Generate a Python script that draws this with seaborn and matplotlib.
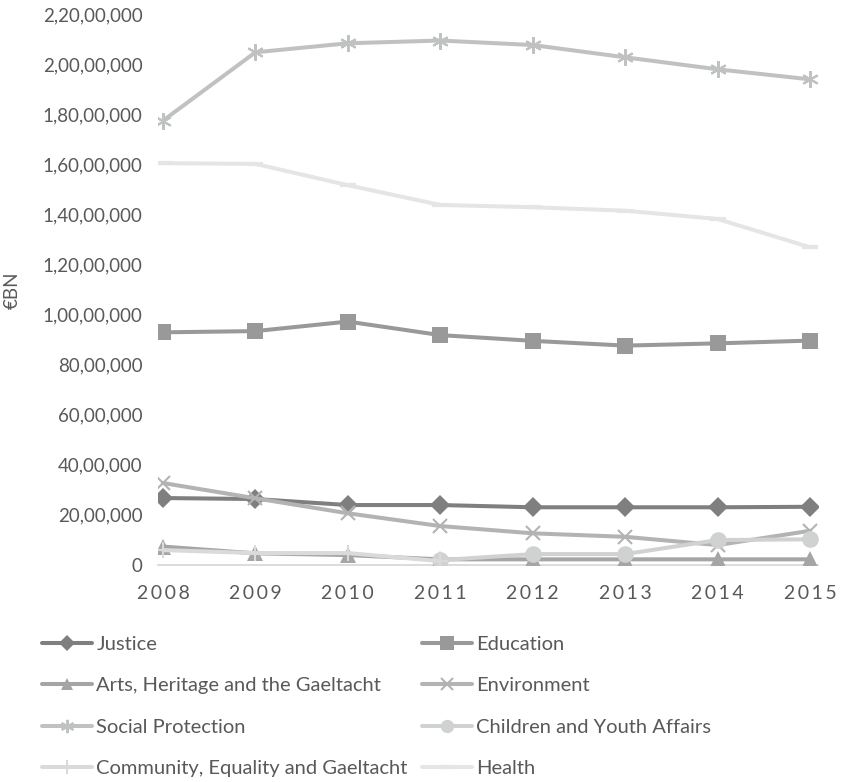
import numpy as np
import pandas as pd
import matplotlib
matplotlib.use("Agg")
import matplotlib.pyplot as plt
import seaborn as sns
from matplotlib.ticker import FuncFormatter, MultipleLocator
from matplotlib.lines import Line2D

# Departmental spending by year
years = [2008, 2009, 2010, 2011, 2012, 2013, 2014, 2015]

justice = [2660000, 2620000, 2380000, 2380000, 2290000, 2290000, 2290000, 2310000]
education = [9280000, 9330000, 9710000, 9170000, 8940000, 8750000, 8840000, 8950000]
arts = [720000, 450000, 380000, 210000, 210000, 210000, 210000, 210000]
environment = [3260000, 2650000, 2050000, 1540000, 1250000, 1110000, 780000, 1350000]
social_protection = [17740000, 20470000, 20830000, 20940000, 20760000, 20270000, 19790000, 19390000]
children = [np.nan, np.nan, np.nan, 180000, 420000, 420000, 980000, 1010000]
community = [580000, 460000, 460000, 140000, np.nan, np.nan, np.nan, np.nan]
health = [16040000, 16010000, 15160000, 14370000, 14280000, 14140000, 13810000, 12680000]

labels = [
    "Justice", "Education", "Arts, Heritage and the Gaeltacht", "Environment",
    "Social Protection", "Children and Youth Affairs",
    "Community, Equality and Gaeltacht", "Health",
]
series = [justice, education, arts, environment, social_protection,
          children, community, health]

df = pd.concat(
    [pd.DataFrame({"year": years, "spend": vals, "dept": name})
     for name, vals in zip(labels, series)],
    ignore_index=True,
)

styles = {
    "Justice": dict(color="#7f7f7f", marker="D", ms=10, mew=0),
    "Education": dict(color="#999999", marker="s", ms=12, mew=0),
    "Arts, Heritage and the Gaeltacht": dict(color="#a5a5a5", marker="^", ms=11, mew=0),
    "Environment": dict(color="#b3b3b3", marker="x", ms=10, mew=1.5),
    "Social Protection": dict(color="#c0c2c1", marker=(6, 2, 0), ms=12, mew=1.5),
    "Children and Youth Affairs": dict(color="#d0d2d1", marker="o", ms=12, mew=0),
    "Community, Equality and Gaeltacht": dict(color="#dadada", marker="+", ms=12, mew=1.5),
    "Health": dict(color="#e5e5e5", marker="_", ms=11, mew=3),
}

sns.set_theme(style="white")
plt.rcParams["font.family"] = ["Lato", "DejaVu Sans"]
text_color = "#595959"

fig = plt.figure(figsize=(8.41, 7.82), dpi=100)
W, H = 841, 782
ax = fig.add_axes([158 / W, (H - 564.6) / H, 660 / W, 550.6 / H])

for name in labels:
    st = styles[name]
    sub = df[df["dept"] == name].dropna()
    sns.lineplot(
        data=sub, x="year", y="spend", ax=ax, color=st["color"], linewidth=2.9,
        marker=st["marker"], markersize=st["ms"], markeredgewidth=st["mew"],
        markeredgecolor=st["color"], markerfacecolor=st["color"],
        legend=False, errorbar=None, zorder=3,
    )

ax.set_xlim(2007.946, 2015.087)
ax.set_ylim(0, 22000000)


def indian_format(v, pos=None):
    n = int(round(v))
    if n == 0:
        return "0"
    s = str(n)
    last3, rest = s[-3:], s[:-3]
    groups = []
    while len(rest) > 2:
        groups.insert(0, rest[-2:])
        rest = rest[:-2]
    if rest:
        groups.insert(0, rest)
    return ",".join(groups + [last3])


ax.yaxis.set_major_locator(MultipleLocator(2000000))
ax.yaxis.set_major_formatter(FuncFormatter(indian_format))
ax.set_xticks(years)
ax.set_xticklabels(["\u2009".join(str(y)) for y in years])

ax.tick_params(axis="y", length=0, pad=11, labelsize=13.5, labelcolor=text_color)
ax.tick_params(axis="x", length=0, pad=15, labelsize=14, labelcolor=text_color)

for side in ("top", "right", "left"):
    ax.spines[side].set_visible(False)
ax.spines["bottom"].set_color("#d9d9d9")
ax.spines["bottom"].set_linewidth(1.3)
ax.set_xlabel("")
ax.set_ylabel("")
ax.grid(False)

fig.text(12 / W, 1 - 290 / H, "€BN", rotation=90, ha="center", va="center",
         fontsize=13.5, color=text_color)


def handle(name):
    st = styles[name]
    return Line2D([], [], color=st["color"], linewidth=2.9, marker=st["marker"],
                  markersize=st["ms"] * 0.8, markeredgewidth=st["mew"],
                  markeredgecolor=st["color"], markerfacecolor=st["color"])


col1 = [labels[0], labels[2], labels[4], labels[6]]
col2 = [labels[1], labels[3], labels[5], labels[7]]
legend_kw = dict(loc="upper left", frameon=False, fontsize=14.5, labelcolor=text_color,
                 handlelength=2.5, handletextpad=0.2, labelspacing=1.2,
                 borderpad=0, borderaxespad=0)
leg1 = fig.legend([handle(n) for n in col1], col1,
                  bbox_to_anchor=(42 / W, 1 - 636 / H), **legend_kw)
leg2 = fig.legend([handle(n) for n in col2], col2,
                  bbox_to_anchor=(422 / W, 1 - 636 / H), **legend_kw)

fig.savefig("out.png", dpi=100, facecolor="white")
